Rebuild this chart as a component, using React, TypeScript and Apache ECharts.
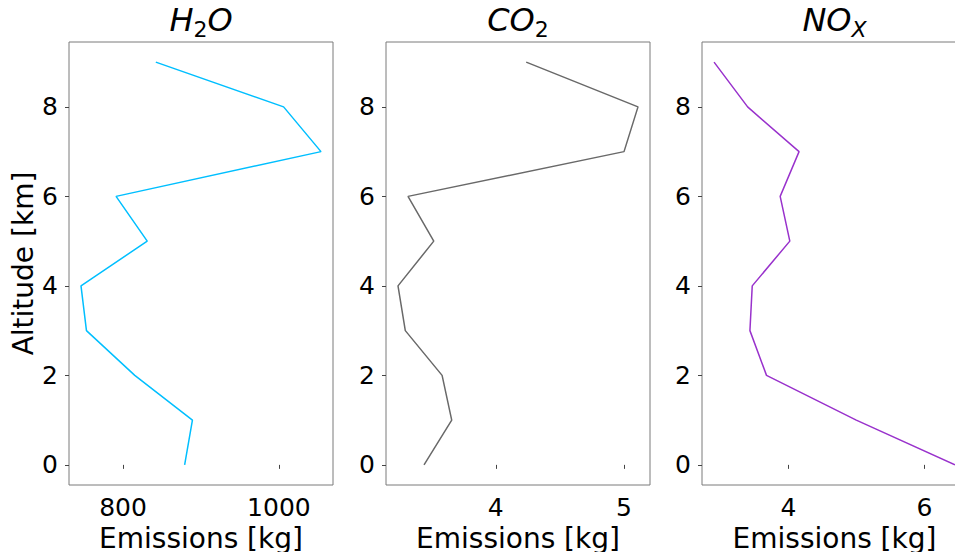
import React, { useEffect, useRef } from "react";
import * as echarts from "echarts";

const altitudes = [0, 1, 2, 3, 4, 5, 6, 7, 8, 9];
const h2oValues = [879, 889, 815, 753, 746, 831, 791, 1054, 1006, 842];
const co2Values = [3.44, 3.656, 3.581, 3.294, 3.237, 3.516, 3.315, 5.0, 5.109, 4.237];
const noxValues = [6.45, 4.998, 3.677, 3.433, 3.467, 4.02, 3.878, 4.156, 3.399, 2.905];

const h2oTicks = [800, 1000];
const co2Ticks = [4, 5];
const noxTicks = [4, 6];
const altTicks = [0, 2, 4, 6, 8];

const titles = ["{i|H}{s|2}{i|O}", "{i|CO}{s|2}", "{i|NO}{si|X}"];
const colors = ["#00BFFF", "#696969", "#9932CC"];
const xAxisTitle = "Emissions [kg]";
const yAxisTitle = "Altitude [km]";

const FONT = "DejaVu Sans";

function pad(vals: number[]) {
  const mn = Math.min(...vals);
  const mx = Math.max(...vals);
  const r = mx - mn;
  return [mn - 0.05 * r, mx + 0.05 * r];
}

export default function App() {
  const ref = useRef<HTMLDivElement>(null);
  useEffect(() => {
    if (!ref.current) return;
    const chart = echarts.init(ref.current, null, { renderer: "svg" });
    const grids = [
      { left: 69, top: 42, width: 264, height: 443 },
      { left: 386, top: 42, width: 264, height: 443 },
      { left: 702, top: 42, width: 265, height: 443 },
    ];
    const allVals = [h2oValues, co2Values, noxValues];
    const allTicks = [h2oTicks, co2Ticks, noxTicks];
    const ymin = -0.45;
    const ymax = 9.45;
    const option: any = {
      animation: false,
      backgroundColor: "#ffffff",
      title: grids.map((g, i) => ({
        text: titles[i],
        left: g.left + g.width / 2,
        top: 0,
        padding: 0,
        textAlign: "center",
        textStyle: {
          fontWeight: "normal",
          rich: {
            i: { fontFamily: FONT, fontStyle: "italic", fontWeight: "normal", fontSize: 32, color: "#000", lineHeight: 40 },
            s: { fontFamily: FONT, fontWeight: "normal", fontSize: 22, color: "#000", lineHeight: 22, verticalAlign: "bottom" },
            si: { fontFamily: FONT, fontStyle: "italic", fontWeight: "normal", fontSize: 22, color: "#000", lineHeight: 22, verticalAlign: "bottom" },
          },
        },
      })),
      grid: grids.map((g) => ({
        ...g,
        show: true,
        borderColor: "#7a7a7a",
        borderWidth: 1,
        backgroundColor: "transparent",
        containLabel: false,
        outerBoundsMode: "none",
      })),
      xAxis: grids.map((g, i) => {
        const [mn, mx] = pad(allVals[i]);
        return {
          type: "value",
          gridIndex: i,
          min: mn,
          max: mx,
          name: xAxisTitle,
          nameLocation: "middle",
          nameGap: 31,
          nameTextStyle: { fontFamily: FONT, fontSize: 28, color: "#000" },
          splitLine: { show: false },
          axisLine: { show: false },
          axisTick: {
            show: true,
            inside: false,
            length: 4,
            lineStyle: { color: "#444" },
            customValues: allTicks[i],
          },
          axisLabel: {
            fontFamily: FONT,
            fontSize: 25,
            color: "#000",
            margin: 10,
            customValues: allTicks[i],
            formatter: (v: number) => String(v),
          },
        };
      }),
      yAxis: grids.map((g, i) => ({
        type: "value",
        gridIndex: i,
        min: ymin,
        max: ymax,
        name: i === 0 ? yAxisTitle : "",
        nameLocation: "middle",
        nameGap: 32,
        nameRotate: 90,
        nameTextStyle: { fontFamily: FONT, fontSize: 28, color: "#000" },
        splitLine: { show: false },
        axisLine: { show: false },
        axisTick: {
          show: true,
          inside: false,
          length: 4,
          lineStyle: { color: "#444" },
          customValues: altTicks,
        },
        axisLabel: {
          fontFamily: FONT,
          fontSize: 25,
          color: "#000",
          margin: 11,
          customValues: altTicks,
          formatter: (v: number) => String(v),
        },
      })),
      series: allVals.map((vals, i) => ({
        type: "line",
        xAxisIndex: i,
        yAxisIndex: i,
        showSymbol: false,
        symbol: "none",
        clip: true,
        lineStyle: { color: colors[i], width: 1.5 },
        data: altitudes.map((a, k) => [vals[k], a]),
      })),
    };
    chart.setOption(option);
    return () => chart.dispose();
  }, []);
  return (
    <div style={{ position: "fixed", left: 0, top: 0, width: 955, height: 552, overflow: "hidden" }}>
      <div ref={ref} style={{ width: 975, height: 552 }} />
    </div>
  );
}
